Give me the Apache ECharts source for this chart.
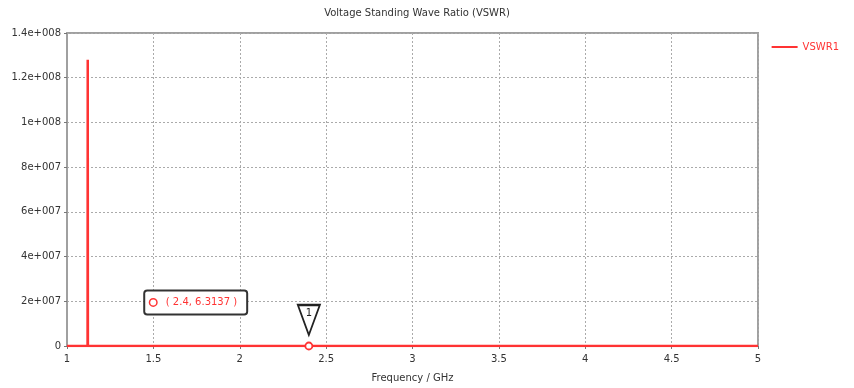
<!DOCTYPE html>
<html>
<head>
<meta charset="utf-8">
<script src="https://cdn.jsdelivr.net/npm/echarts@6/dist/echarts.min.js"></script>
<style>html,body{margin:0;padding:0;background:#fff}#c{width:854px;height:388px}</style>
</head>
<body>
<div id="c"></div>
<script>
var freqGHz = [1.0, 1.119, 1.12, 1.121, 2.4, 5.0];
var vswr = [30, 40, 128000000, 40, 6.3137, 20];
var markerFreq = 2.4;
var markerValue = 6.3137;
var markerLabel = '1';
var yTickStep = 20000000;

function fmtSci(v) {
  if (v === 0) return '0';
  var e = Math.floor(Math.log10(Math.abs(v)) + 1e-9);
  var m = v / Math.pow(10, e);
  m = Math.round(m * 1000) / 1000;
  var es = String(e);
  while (es.length < 3) es = '0' + es;
  return m + 'e+' + es;
}

var font = 'DejaVu Sans';
var red = '#ff3333';
var chart = echarts.init(document.getElementById('c'));
chart.setOption({
  animation: false,
  title: {
    text: 'Voltage Standing Wave Ratio (VSWR)',
    left: 412, top: 3, textAlign: 'center',
    textStyle: {fontFamily: font, fontSize: 10, fontWeight: 'normal', color: '#333'}
  },
  legend: {
    right: 10, top: 37, icon: 'path://M0,0 L26,0 L26,2 L0,2 Z',
    itemWidth: 26, itemHeight: 2, itemGap: 4,
    textStyle: {fontFamily: font, fontSize: 10, color: red},
    data: ['VSWR1']
  },
  grid: {left: 67, right: 96, top: 33, bottom: 42, show: true, borderColor: '#a0a0a0', borderWidth: 2},
  xAxis: {
    type: 'value', min: 1, max: 5, interval: 0.5,
    name: 'Frequency / GHz', nameLocation: 'middle', nameGap: 27,
    nameTextStyle: {fontFamily: font, fontSize: 10, color: '#333'},
    axisLine: {lineStyle: {color: '#a0a0a0', width: 2}},
    axisTick: {show: true, length: 3, lineStyle: {color: '#777'}},
    axisLabel: {fontFamily: font, fontSize: 10, color: '#333', margin: 8},
    splitLine: {show: true, lineStyle: {type: [2, 2], color: '#aaa', width: 1}}
  },
  yAxis: {
    type: 'value', min: 0, max: 140000000, interval: yTickStep,
    axisLine: {show: true, lineStyle: {color: '#a0a0a0', width: 2}},
    axisTick: {show: true, length: 3, lineStyle: {color: '#777'}},
    axisLabel: {fontFamily: font, fontSize: 10, color: '#333', margin: 6, formatter: fmtSci},
    splitLine: {show: true, lineStyle: {type: [2, 2], color: '#aaa', width: 1}}
  },
  series: [{
    name: 'VSWR1', type: 'line', showSymbol: false,
    data: freqGHz.map(function (f, i) { return [f, vswr[i]]; }),
    lineStyle: {color: red, width: 2.5},
    itemStyle: {color: red},
    z: 3,
    markPoint: {
      silent: true,
      data: [
        {coord: [markerFreq, markerValue], symbol: 'circle', symbolSize: 7,
         itemStyle: {color: '#fff', borderColor: red, borderWidth: 1.8}, label: {show: false}},
        {coord: [markerFreq, markerValue], symbol: 'triangle', symbolSize: [22, 30], symbolRotate: 180,
         symbolOffset: [0, -26],
         itemStyle: {color: '#fff', borderColor: '#222', borderWidth: 2},
         label: {show: true, formatter: markerLabel, position: 'inside', offset: [0, -7],
                 fontFamily: font, fontSize: 10, color: '#222'}},
        {coord: [1.745, 19500000], symbol: 'rect', symbolSize: 1,
         itemStyle: {color: 'transparent'},
         label: {show: true, position: 'inside',
                 formatter: function () { return '{c|}   ( ' + markerFreq + ', ' + markerValue + ' )'; },
                 fontFamily: font, fontSize: 10, color: red,
                 backgroundColor: '#fff', borderColor: '#333', borderWidth: 2, borderRadius: 2,
                 padding: [6, 9, 6, 5],
                 rich: {c: {width: 6, height: 6, borderColor: red, borderWidth: 1.5, borderRadius: 4, backgroundColor: '#fff'}}}}
      ]
    }
  }]
});
</script>
</body>
</html>
